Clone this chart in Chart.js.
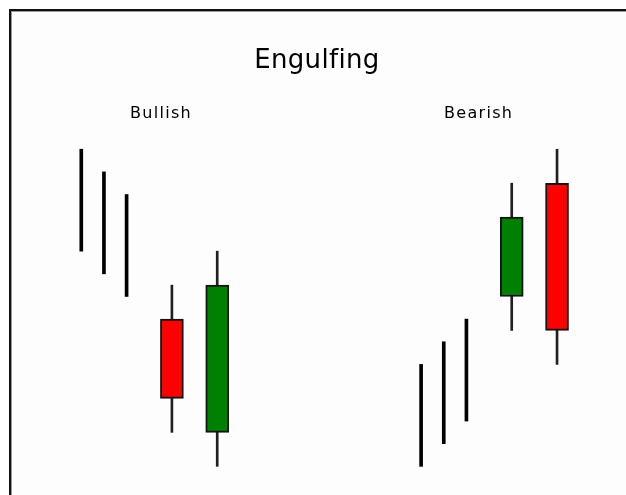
<!DOCTYPE html>
<html>
<head>
<meta charset="utf-8">
<script src="https://cdn.jsdelivr.net/npm/chart.js@4"></script>
<style>
  html, body { margin: 0; padding: 0; background: #ffffff; }
  #wrap { width: 626px; height: 495px; position: relative; }
</style>
</head>
<body>
<div id="wrap"><canvas id="engulfChart"></canvas></div>
<script>
// Engulfing pattern sketch: plain price lines leading into a two-candle engulfing pair.
// x = slot number, y = price units

// leading plain bars (no body)
const lineSlots = [1, 2, 3, 16, 17, 18];
const lineLows  = [21, 19, 17, 2, 4, 6];
const lineHighs = [30, 28, 26, 11, 13, 15];

// candles: bullish pair then bearish pair
const candleSlots  = [5, 7, 20, 22];
const candleOpens  = [15, 5, 17, 27];
const candleCloses = [8, 18, 24, 14];
const candleLows   = [5, 2, 14, 11];
const candleHighs  = [18, 21, 27, 30];

const labelTexts = ['Engulfing', 'Bullish', 'Bearish'];

const UP = '#008000';
const DOWN = '#ff0000';

const bodyData = candleSlots.map((s, i) => ({ x: s, y: [candleOpens[i], candleCloses[i]] }));
const bodyColors = candleSlots.map((s, i) => candleCloses[i] > candleOpens[i] ? UP : DOWN);
const wickData = candleSlots.map((s, i) => ({ x: s, y: [candleLows[i], candleHighs[i]] }));
const lineData = lineSlots.map((s, i) => ({ x: s, y: [lineLows[i], lineHighs[i]] }));

// frame (top + left edge only) and the slightly grey panel behind it
const framePlugin = {
  id: 'frame',
  beforeDraw(chart) {
    const ctx = chart.ctx;
    const w = chart.width, h = chart.height;
    ctx.save();
    ctx.fillStyle = '#fdfdfd';
    ctx.fillRect(11, 11, w - 11, h - 11);
    ctx.fillStyle = '#111111';
    ctx.fillRect(9, 9, w - 9, 2);
    ctx.fillRect(9, 9, 2, h - 9);
    ctx.fillStyle = '#9a9a9a';
    ctx.fillRect(11, 11, w - 11, 1);
    ctx.fillRect(11, 11, 1, h - 11);
    ctx.restore();
  }
};

// captions placed through the scales
const captionPlugin = {
  id: 'captions',
  afterDatasetsDraw(chart) {
    const { ctx, scales: { x, y } } = chart;
    const spots = [
      { x: 11.4, y: 37.2, font: '26px "DejaVu Sans"', spacing: '0.3px' },
      { x: 4.52, y: 32.8, font: '16px "DejaVu Sans"', spacing: '1.3px' },
      { x: 18.54, y: 32.8, font: '16px "DejaVu Sans"', spacing: '1.3px' }
    ];
    ctx.save();
    ctx.fillStyle = '#000000';
    ctx.textAlign = 'center';
    ctx.textBaseline = 'alphabetic';
    spots.forEach((p, i) => {
      ctx.font = p.font;
      ctx.letterSpacing = p.spacing;
      ctx.fillText(labelTexts[i], x.getPixelForValue(p.x), y.getPixelForValue(p.y));
    });
    ctx.restore();
  }
};

new Chart(document.getElementById('engulfChart'), {
  type: 'bar',
  data: {
    datasets: [
      {
        label: 'Bodies',
        data: bodyData,
        backgroundColor: bodyColors,
        borderColor: '#141414',
        borderWidth: 2,
        borderSkipped: false,
        barThickness: 23,
        order: 0
      },
      {
        label: 'Wicks',
        data: wickData,
        backgroundColor: '#202020',
        borderWidth: 0,
        barThickness: 2,
        order: 1
      },
      {
        label: 'Lines',
        data: lineData,
        backgroundColor: '#000000',
        borderWidth: 0,
        barThickness: 3,
        order: 2
      }
    ]
  },
  options: {
    responsive: true,
    maintainAspectRatio: false,
    animation: false,
    events: [],
    grouped: false,
    layout: { padding: { left: 2, right: 1, top: 2, bottom: 6 } },
    plugins: {
      legend: { display: false },
      tooltip: { enabled: false },
      title: { display: false }
    },
    scales: {
      x: { type: 'linear', min: -2.5, max: 25, offset: false, display: false },
      y: { type: 'linear', min: 0, max: 43, display: false }
    }
  },
  plugins: [framePlugin, captionPlugin]
});
</script>
</body>
</html>
